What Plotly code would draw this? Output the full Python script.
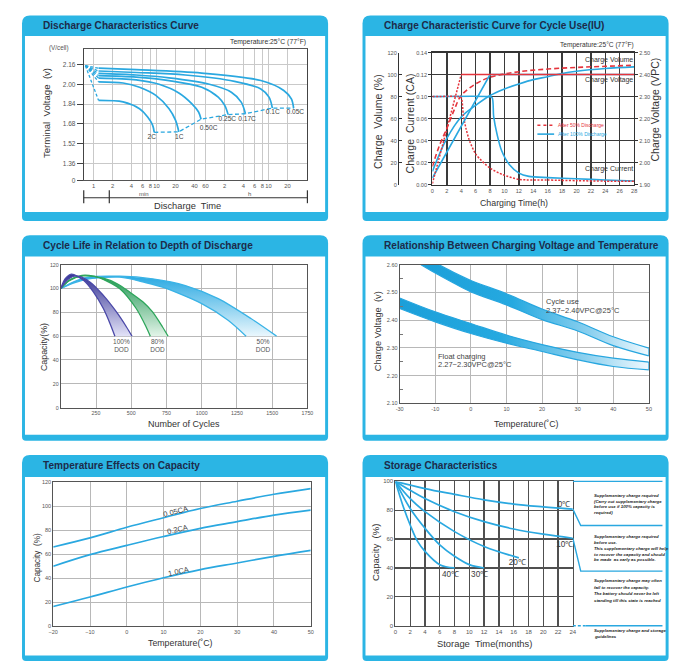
import numpy as np
import plotly.graph_objects as go

W, H = 692, 672
FONT = "Liberation Sans, Arial, Helvetica, sans-serif"
CYAN = "#2bb5e4"
NAVY = "#1d2b4a"
BLUE = "#2aa8e0"
RED = "#e5343c"
TXT = "#333333"
TICK = "#555555"

# ===================== DATA =====================
# Panel 1: discharge curves (time in minutes, volts per cell)
dc_start_time = 0.742
dc_start_volt = 2.15
dc_time_2C = [1.2, 2.94, 5.37, 7.23, 8.66, 9.2]
dc_volt_2C = [1.870, 1.858, 1.802, 1.736, 1.670, 1.612]
dc_time_1C = [1.2, 2.94, 5.37, 9.75, 15.8, 20.0, 22.6]
dc_volt_1C = [2.020, 2.010, 1.976, 1.910, 1.802, 1.710, 1.616]
dc_time_050C = [1.2, 4.75, 11.0, 22.6, 36.5, 46.5, 51.0]
dc_volt_050C = [2.050, 2.036, 2.000, 1.930, 1.842, 1.776, 1.718]
dc_time_025C = [1.2, 4.75, 15.8, 52.3, 95.4, 121, 137]
dc_volt_025C = [2.070, 2.058, 2.030, 1.976, 1.896, 1.830, 1.755]
dc_time_017C = [1.2, 4.75, 15.8, 66.6, 154, 221, 258]
dc_volt_017C = [2.088, 2.075, 2.052, 2.002, 1.936, 1.856, 1.762]
dc_time_01C = [1.2, 4.75, 28.7, 173, 453, 611, 690]
dc_volt_01C = [2.107, 2.095, 2.075, 2.024, 1.962, 1.896, 1.808]
dc_time_005C = [1.2, 4.75, 52.3, 453, 1047, 1383, 1502]
dc_volt_005C = [2.130, 2.118, 2.090, 2.030, 1.950, 1.882, 1.808]
dc_labels = ["2C", "1C", "0.50C", "0.25C", "0.17C", "0.1C", "0.05C"]
dc_label_time = [8.4, 23.0, 67.3, 133, 274, 700, 1596]
dc_label_volt = [1.568, 1.568, 1.648, 1.718, 1.718, 1.771, 1.771]
dc_xtick_vals = [1, 2, 4, 6, 8, 10, 20, 40, 60, 120, 240, 360, 480, 600, 1200]
dc_xtick_text = ["1", "2", "4", "6", "8", "10", "20", "40", "60", "2", "4", "6", "8", "10", "20"]
dc_ytick_vals = [1.224, 1.36, 1.52, 1.68, 1.84, 2.00, 2.16]
dc_ytick_text = ["0", "1.36", "1.52", "1.68", "1.84", "2.00", "2.16"]

# Panel 2: IU charge (hours; volume %, current CA-axis units, voltage VPC)
ch_time_vol100 = [0, 2, 4, 6, 8, 10, 12, 14, 16, 18, 20, 24, 28]
ch_vol100 = [12, 42, 61.5, 72, 81, 87, 91.5, 95.4, 98, 101, 103, 105.5, 107]
ch_time_volt100 = [0, 8, 28]
ch_volt100 = [1.93, 2.40, 2.40]
ch_time_cur100 = [0, 7.8, 8.3, 8.5, 9.0, 9.6, 10.7, 12.0, 13.4, 16, 20, 24, 28]
ch_cur100 = [0.08, 0.08, 0.079, 0.062, 0.045, 0.031, 0.018, 0.0105, 0.0075, 0.0064, 0.0053, 0.0043, 0.0033]
ch_time_vol50 = [0, 1, 2, 3, 4, 6, 8, 12, 16, 20, 24, 28]
ch_vol50 = [16.5, 36, 51, 67.5, 81, 91.5, 97.5, 102.6, 105, 106.5, 107.5, 108.5]
ch_time_volt50 = [0, 4, 28]
ch_volt50 = [1.905, 2.40, 2.40]
ch_time_cur50 = [0, 3.6, 4, 4.3, 4.7, 5.2, 6.1, 8, 9.8, 12, 16, 20, 24, 28]
ch_cur50 = [0.08, 0.08, 0.079, 0.063, 0.05, 0.039, 0.027, 0.015, 0.009, 0.0048, 0.0042, 0.0036, 0.0032, 0.003]
ch_cur_tickvals = [0, 0.02, 0.04, 0.06, 0.08, 0.10, 0.12]
ch_cur_ticktext = ["0.00", "0.02", "0.04", "0.06", "0.10", "0.12", "0.14"]

# Panel 3: cycle life (cycles, capacity %)
cl100_a_cyc = [0, 30, 75, 163, 232, 302, 349, 384]
cl100_a_cap = [100, 108, 112, 106.7, 97, 83.2, 70.7, 60]
cl100_b_cyc = [0, 50, 110, 209, 302, 395, 465, 505]
cl100_b_cap = [100, 107.5, 110.5, 105.3, 94.2, 80.3, 67.9, 60]
cl80_a_cyc = [0, 60, 150, 232, 330, 419, 535, 605, 635]
cl80_a_cap = [100, 107, 111, 110.3, 106, 99.8, 83.2, 67.9, 60]
cl80_b_cyc = [0, 60, 160, 302, 400, 489, 580, 651, 721, 761]
cl80_b_cap = [100, 106.5, 110.5, 108.6, 104, 97, 89, 80.3, 67.9, 60]
cl50_a_cyc = [0, 100, 186, 419, 651, 884, 1117, 1349, 1531]
cl50_a_cap = [100, 106, 109.4, 110.3, 108.1, 102.5, 91.5, 74.8, 60]
cl50_b_cyc = [0, 100, 200, 419, 600, 722, 1000, 1187, 1315]
cl50_b_cap = [100, 105, 108, 109.5, 105, 101.1, 87.3, 73.4, 60]
cl_label_text = ["100%<br>DOD", "80%<br>DOD", "50%<br>DOD"]
cl_label_cyc = [430, 686, 1435]
cl_label_cap = [51.5, 51.5, 51.5]

# Panel 4: charging voltage vs temperature (deg C, V)
cyc_top_t = [-9, -5, 0, 10, 20, 30, 40, 50]
cyc_top_v = [2.600, 2.573, 2.543, 2.495, 2.440, 2.394, 2.340, 2.299]
cyc_bot_t = [-14, -10, -5, 0, 10, 20, 30, 40, 50]
cyc_bot_v = [2.600, 2.570, 2.535, 2.502, 2.455, 2.402, 2.361, 2.308, 2.271]
flt_top_t = [-20, -10, 0, 10, 20, 30, 40, 50]
flt_top_v = [2.480, 2.430, 2.388, 2.346, 2.312, 2.284, 2.263, 2.249]
flt_bot_t = [-20, -10, 0, 10, 20, 30, 40, 50]
flt_bot_v = [2.442, 2.394, 2.352, 2.317, 2.287, 2.257, 2.233, 2.221]
cv_xtick_vals = [-20, -10, 0, 10, 20, 30, 40, 50]
cv_xtick_text = ["-30", "-10", "0", "10", "20", "30", "40", "50"]

# Panel 5: temperature effects on capacity
tc_temp = [-20, -10, 0, 10, 20, 30, 40, 50]
tc_005CA = [66, 73.5, 82.4, 90.3, 98, 104, 109.8, 114.5]
tc_02CA = [50, 59.6, 67.3, 74.7, 81.5, 87, 92.5, 96.6]
tc_10CA = [16.5, 24.4, 32.7, 40.4, 47.2, 52.7, 58.2, 63.1]

# Panel 6: storage characteristics (months, capacity %)
st_m_0C = [0, 4, 8, 12, 16, 20, 24]
st_c_0C = [100, 95, 91, 87.2, 84.3, 82.4, 80.8]
st_m_10C = [0, 2, 4, 8, 12, 16, 20, 24]
st_c_10C = [100, 93.8, 88.1, 79, 72.1, 67, 63.4, 60.6]
st_m_20C = [0, 2, 4, 8, 12, 16.7]
st_c_20C = [100, 88, 79, 65.2, 54.9, 47]
st_m_30C = [0, 2, 4, 6, 8, 10, 12]
st_c_30C = [100, 81.2, 67.5, 56, 48.1, 42.3, 40]
st_m_40C = [0, 1, 2, 3, 4, 6, 8]
st_c_40C = [100, 83.5, 69.8, 58.4, 51.5, 42.3, 40]
st_labels = ["0℃", "10℃", "20℃", "30℃", "40℃"]
st_label_m = [22.8, 22.9, 16.5, 11.4, 7.45]
st_label_c = [84, 56, 43.5, 35.4, 35.4]
st_zone_levels = [100, 69.4, 37.8, 0]
st_zone_link_x = [0, 0.088, 1]

# ===================== HELPERS =====================
def X(px):
    return px / W


def Y(py):
    return 1 - py / H


def dx(a, b):
    return [a / W, b / W]


def dy(top, bot):
    return [1 - bot / H, 1 - top / H]


def rrect(x0, y0, x1, y1, rt, rb):
    return (f"M {X(x0+rt)},{Y(y0)} L {X(x1-rt)},{Y(y0)} Q {X(x1)},{Y(y0)} {X(x1)},{Y(y0+rt)} "
            f"L {X(x1)},{Y(y1-rb)} Q {X(x1)},{Y(y1)} {X(x1-rb)},{Y(y1)} "
            f"L {X(x0+rb)},{Y(y1)} Q {X(x0)},{Y(y1)} {X(x0)},{Y(y1-rb)} "
            f"L {X(x0)},{Y(y0+rt)} Q {X(x0)},{Y(y0)} {X(x0+rt)},{Y(y0)} Z")


annotations = []
shapes = []


def ann(text, px, py, size, color=TXT, xa="center", ya="middle", angle=0):
    annotations.append(dict(text=text, x=px / W, y=1 - py / H, xref="paper", yref="paper",
                            xanchor=xa, yanchor=ya, showarrow=False, textangle=angle,
                            font=dict(family=FONT, size=size, color=color)))


fig = go.Figure()

# ===================== PANEL FRAMES =====================
panels = [
    (17.3, 12.7, 328.3, 220, 33.3, 211, "Discharge Characteristics Curve"),
    (363.3, 12.7, 674.3, 220, 33.3, 211, "Charge Characteristic Curve for Cycle Use(IU)"),
    (17.3, 234.3, 328.3, 441.7, 255.7, 435.7, "Cycle Life in Relation to Depth of Discharge"),
    (363.3, 234.3, 674.3, 441.7, 255.7, 435.7, "Relationship Between Charging Voltage and Temperature"),
    (17.3, 456, 328.3, 664, 478.3, 658.3, "Temperature Effects on Capacity"),
    (363.3, 456, 674.3, 664, 478.3, 658.3, "Storage Characteristics"),
]
for (x0, y0, x1, y1, hb, ib, title) in panels:
    shapes.append(dict(type="path", path=rrect(x0, y0, x1, y1, 8, 4), xref="paper", yref="paper",
                       fillcolor=CYAN, line=dict(width=0), layer="below"))
    shapes.append(dict(type="rect", x0=X(x0 + 3), x1=X(x1 - 3), y0=Y(ib), y1=Y(hb), xref="paper",
                       yref="paper", fillcolor="white", line=dict(width=0), layer="below"))
    ann(f"<b>{title}</b>", x0 + 19.5, (y0 + hb) / 2 - 0.3, 10.1, NAVY, xa="left")

# ===================== PANEL 1 =====================
dc_series = [(dc_time_2C, dc_volt_2C), (dc_time_1C, dc_volt_1C), (dc_time_050C, dc_volt_050C),
             (dc_time_025C, dc_volt_025C), (dc_time_017C, dc_volt_017C), (dc_time_01C, dc_volt_01C),
             (dc_time_005C, dc_volt_005C)]
fx, fy = [], []
for t, v in dc_series:
    fx += [dc_start_time, t[0], None]
    fy += [dc_start_volt, v[0], None]
fig.add_trace(go.Scatter(x=fx, y=fy, mode="lines", xaxis="x", yaxis="y",
                         line=dict(color=BLUE, width=1.3, dash="3px,2px")))
for t, v in dc_series:
    fig.add_trace(go.Scatter(x=t, y=v, mode="lines", xaxis="x", yaxis="y",
                             line=dict(color=BLUE, width=1.7, shape="spline", smoothing=0.9)))
fig.add_trace(go.Scatter(x=[s[0][-1] for s in dc_series], y=[s[1][-1] for s in dc_series],
                         mode="lines", xaxis="x", yaxis="y",
                         line=dict(color=BLUE, width=1.3, dash="4px,2.5px")))
fig.add_trace(go.Scatter(x=dc_label_time, y=dc_label_volt, text=dc_labels, mode="text",
                         xaxis="x", yaxis="y", cliponaxis=False,
                         textfont=dict(family=FONT, size=6.6, color="#444")))
ann("(V/cell)", 66.7, 45, 6.3, TICK, xa="right")
ann("Temperature:25°C (77°F)", 308.3, 39.3, 6.8, TXT, xa="right")
ann("Terminal  Voltage  (v)", 41.7, 111, 9.6, TXT, angle=-90)
ann("Discharge  Time", 185, 205, 9.3, TXT)
ann("min", 141.7, 192.3, 6, TICK)
ann("h", 248.3, 192.3, 6, TICK)
# bracket under the time axis
shapes.append(dict(type="line", xref="paper", yref="paper", x0=X(80), x1=X(307.3), y0=Y(196.5), y1=Y(196.5),
                   line=dict(color="#333", width=1.2)))
for px in (80, 307.3):
    shapes.append(dict(type="line", xref="paper", yref="paper", x0=X(px), x1=X(px), y0=Y(189), y1=Y(202),
                       line=dict(color="#333", width=1.2)))
shapes.append(dict(type="line", xref="x", yref="paper", x0=np.log10(60), x1=np.log10(60), y0=Y(189), y1=Y(202),
                   line=dict(color="#333", width=1.2)))

# ===================== PANEL 2 =====================
fig.add_trace(go.Scatter(x=ch_time_vol100, y=ch_vol100, mode="lines", xaxis="x2", yaxis="y2",
                         line=dict(color=BLUE, width=1.6, shape="spline")))
fig.add_trace(go.Scatter(x=ch_time_vol50, y=ch_vol50, mode="lines", xaxis="x2", yaxis="y2",
                         line=dict(color=RED, width=1.6, shape="spline", dash="5px,3px")))
fig.add_trace(go.Scatter(x=ch_time_volt100, y=ch_volt100, mode="lines", xaxis="x2", yaxis="y4",
                         line=dict(color=BLUE, width=1.6)))
fig.add_trace(go.Scatter(x=ch_time_volt50[:2], y=ch_volt50[:2], mode="lines", xaxis="x2", yaxis="y4",
                         line=dict(color=RED, width=1.5, dash="2px,1.5px")))
fig.add_trace(go.Scatter(x=ch_time_volt50[1:], y=ch_volt50[1:], mode="lines", xaxis="x2", yaxis="y4",
                         line=dict(color=RED, width=1.5)))
fig.add_trace(go.Scatter(x=ch_time_cur100, y=ch_cur100, mode="lines", xaxis="x2", yaxis="y3",
                         line=dict(color=BLUE, width=1.6, shape="spline", smoothing=0.7)))
fig.add_trace(go.Scatter(x=ch_time_cur50, y=ch_cur50, mode="lines", xaxis="x2", yaxis="y3",
                         line=dict(color=RED, width=1.5, shape="spline", smoothing=0.7, dash="2px,1.5px")))
ann("Temperature:25°C (77°F)", 641, 42, 6.6, TXT, xa="right")
ann("Charge Volume", 640, 57.3, 7, TXT, xa="right")
ann("Charge Voltage", 640, 77.3, 7, TXT, xa="right")
ann("Charge Current", 640, 167.7, 7, TXT, xa="right")
ann("Charge  Volume (%)", 379, 119, 10.5, TXT, angle=-90)
ann("Charge  Current (CA)", 411, 121, 10.5, TXT, angle=-90)
ann("Charge Voltage (VPC)", 661, 107, 10.5, TXT, angle=-90)
ann("Charging Time(h)", 517.7, 202.3, 8.8, TXT)
shapes.append(dict(type="line", xref="paper", yref="paper", x0=X(541), x1=X(558), y0=Y(123.3), y1=Y(123.3),
                   line=dict(color=RED, width=1.5, dash="dot")))
shapes.append(dict(type="line", xref="paper", yref="paper", x0=X(541), x1=X(558), y0=Y(132.3), y1=Y(132.3),
                   line=dict(color=BLUE, width=1.6)))
ann("After 50% Discharge", 560, 123.3, 5, RED, xa="left")
ann("After 100% Discharge", 560, 132.3, 5, BLUE, xa="left")

# ===================== PANEL 3 =====================
lens = [
    (cl50_a_cyc, cl50_a_cap, cl50_b_cyc, cl50_b_cap, "#3ab3e6", "#eaf7fd", "#2aa9e2"),
    (cl80_a_cyc, cl80_a_cap, cl80_b_cyc, cl80_b_cap, "#2ea65b", "#e2f4e8", "#1f9552"),
    (cl100_a_cyc, cl100_a_cap, cl100_b_cyc, cl100_b_cap, "#4a48a8", "#e2e2f7", "#363494"),
]
for ac, ap, bc, bp, lc, light, dark in lens:
    fig.add_trace(go.Scatter(x=ac, y=ap, mode="lines", xaxis="x3", yaxis="y5",
                             line=dict(color=lc, width=1.3, shape="spline", smoothing=0.8)))
    fig.add_trace(go.Scatter(x=bc, y=bp, mode="lines", xaxis="x3", yaxis="y5", fill="tonexty",
                             fillgradient=dict(type="vertical", colorscale=[[0, light], [1, dark]]),
                             line=dict(color=lc, width=1.3, shape="spline", smoothing=0.8)))
fig.add_trace(go.Scatter(x=cl_label_cyc, y=cl_label_cap, text=cl_label_text, mode="text",
                         xaxis="x3", yaxis="y5", cliponaxis=False,
                         textfont=dict(family=FONT, size=6.5, color="#555")))
ann("Capacity(%)", 39, 346.7, 8.8, TXT, angle=-90)
ann("Number of Cycles", 181.7, 425, 9, TXT)

# ===================== PANEL 4 =====================
band_scale = [[0, "#1b9fd9"], [0.4, "#25a9e0"], [0.75, "#8ed1ef"], [1, "#f0f9fe"]]
for tt, tv, bt, bv in [(cyc_top_t, cyc_top_v, cyc_bot_t, cyc_bot_v),
                       (flt_top_t, flt_top_v, flt_bot_t, flt_bot_v)]:
    fig.add_trace(go.Scatter(x=tt, y=tv, mode="lines", xaxis="x4", yaxis="y6",
                             line=dict(color="#27a6df", width=1.2, shape="spline")))
    fig.add_trace(go.Scatter(x=bt, y=bv, mode="lines", xaxis="x4", yaxis="y6", fill="tonexty",
                             fillgradient=dict(type="horizontal", colorscale=band_scale),
                             line=dict(color="#27a6df", width=1.2, shape="spline")))
    fig.add_trace(go.Scatter(x=[tt[-1], bt[-1]], y=[tv[-1], bv[-1]], mode="lines", xaxis="x4", yaxis="y6",
                             line=dict(color="#27a6df", width=1.2)))
ann("Cycle use", 547.7, 301, 7.5, "#444", xa="left")
ann("2.37~2.40VPC@25°C", 547.7, 310, 7.5, "#444", xa="left")
ann("Float charging", 437.7, 356.7, 7.5, "#444", xa="left")
ann("2.27~2.30VPC@25°C", 437.7, 365, 7.5, "#444", xa="left")
ann("Charge Voltage  (v)", 379.3, 331, 9.3, TXT, angle=-90)
ann("Temperature(˚C)", 530, 425, 8.8, TXT)

# ===================== PANEL 5 =====================
for cap in (tc_005CA, tc_02CA, tc_10CA):
    fig.add_trace(go.Scatter(x=tc_temp, y=cap, mode="lines", xaxis="x5", yaxis="y7",
                             line=dict(color=BLUE, width=1.7, shape="spline")))
for txt, tx, cy, ang in [("0.05CA", 13.2, 95.8, -14), ("0.2CA", 13.7, 80.7, -13), ("1.0CA", 14, 45.9, -12.5)]:
    annotations.append(dict(text=txt, x=tx, y=cy, xref="x5", yref="y7", showarrow=False, textangle=ang,
                            font=dict(family=FONT, size=7.5, color="#444")))
ann("Capacity  (%)", 33, 560, 8.2, TXT, angle=-90)
ann("Temperature(˚C)", 178, 646, 8.8, TXT)

# ===================== PANEL 6 =====================
st_series = [(st_m_0C, st_c_0C), (st_m_10C, st_c_10C), (st_m_20C, st_c_20C),
             (st_m_30C, st_c_30C), (st_m_40C, st_c_40C)]
for m, c in st_series:
    fig.add_trace(go.Scatter(x=m, y=c, mode="lines", xaxis="x6", yaxis="y8",
                             line=dict(color=BLUE, width=1.7, shape="spline")))
fig.add_trace(go.Scatter(x=st_label_m, y=st_label_c, text=st_labels, mode="text", xaxis="x6", yaxis="y8",
                         cliponaxis=False, textfont=dict(family=FONT, size=8.2, color="#3a3a3a")))
# zone boundary lines to the right of the plot
fig.add_trace(go.Scatter(x=[0, 1], y=[st_zone_levels[0]] * 2, mode="lines", xaxis="x7", yaxis="y9",
                         line=dict(color=BLUE, width=1.4)))
fig.add_trace(go.Scatter(x=st_zone_link_x, y=[st_c_0C[-1], st_zone_levels[1], st_zone_levels[1]],
                         mode="lines", xaxis="x7", yaxis="y9", line=dict(color=BLUE, width=1.4)))
fig.add_trace(go.Scatter(x=st_zone_link_x, y=[st_c_10C[-1], st_zone_levels[2], st_zone_levels[2]],
                         mode="lines", xaxis="x7", yaxis="y9", line=dict(color=BLUE, width=1.4)))
fig.add_trace(go.Scatter(x=[0, 0.14], y=[st_zone_levels[3]] * 2, mode="lines", xaxis="x7", yaxis="y9",
                         line=dict(color=BLUE, width=1.4, dash="3px,2px")))
fig.add_trace(go.Scatter(x=[0.14, 1], y=[st_zone_levels[3]] * 2, mode="lines", xaxis="x7", yaxis="y9",
                         line=dict(color=BLUE, width=1.4)))
notes = [
    (496.5, "Supplementary charge required"),
    (502.5, "(Carry out supplementary charge"),
    (508.5, "before use if 100% capacity is"),
    (514.5, "required)"),
    (538, "Supplementary charge required"),
    (544, "before use."),
    (550, "This supplementary charge will help"),
    (556, "to recover the capacity and should"),
    (562, "be made  as early as possible."),
    (583, "Supplementary charge may often"),
    (589.7, "fail to recover the capacity."),
    (596.3, "The battery should never be left"),
    (603, "standing till this state is reached"),
    (633, "Supplementary charge and storage"),
    (639, "guidelines"),
]
for py, line in notes:
    ann(f"<b><i>{line}</i></b>", 596, py, 4.3, "#222", xa="left")
ann("Capacity  (%)", 376, 554, 9.6, TXT, angle=-90)
ann("Storage  Time(months)", 487.7, 646, 9.4, TXT)

# ===================== LAYOUT =====================
tf = lambda s, c=TICK: dict(family=FONT, size=s, color=c)

layout = dict(
    width=W, height=H, margin=dict(l=0, r=0, t=0, b=0),
    paper_bgcolor="white", plot_bgcolor="rgba(0,0,0,0)", showlegend=False,
    font=dict(family=FONT),
    # panel 1
    xaxis=dict(domain=dx(80, 307), anchor="y", type="log", range=[-0.156, 3.391],
               tickvals=dc_xtick_vals, ticktext=dc_xtick_text, tickangle=0, showgrid=True,
               gridcolor="#c9c9c9", gridwidth=1, showline=True, mirror=True, linecolor="#555",
               ticks="", zeroline=False, tickfont=tf(5.8)),
    yaxis=dict(domain=dy(46, 179), anchor="x", range=[1.224, 2.288], tickvals=dc_ytick_vals,
               ticktext=dc_ytick_text, showgrid=True, gridcolor="#c9c9c9", gridwidth=1, showline=True,
               mirror=True, linecolor="#444", ticks="outside", ticklen=6, tickcolor="#444",
               zeroline=False, tickfont=tf(6.5)),
    # panel 2
    xaxis2=dict(domain=dx(434.3, 639.3), anchor="y3", range=[0, 28], tickvals=list(range(0, 29, 2)),
                tickangle=0, showgrid=True, gridcolor="#3a3a3a", gridwidth=1.4, showline=True,
                mirror=True, linecolor="#333", linewidth=1.2, ticks="", zeroline=False, tickfont=tf(5.6)),
    yaxis2=dict(domain=dy(50, 183.3), anchor="free", position=399.3 / W, range=[0, 120], dtick=20,
                showgrid=True, gridcolor="#3a3a3a", gridwidth=1.4, showline=True, linecolor="#333",
                linewidth=1.2, ticks="inside", ticklen=3, tickcolor="#333", zeroline=False,
                tickfont=tf(5.6)),
    yaxis3=dict(overlaying="y2", anchor="x2", side="left", range=[0, 0.12], tickvals=ch_cur_tickvals,
                ticktext=ch_cur_ticktext, showgrid=False, showline=True, mirror=True, linecolor="#333",
                linewidth=1.2, ticks="outside", ticklen=3, tickcolor="#333", zeroline=False,
                tickfont=tf(5.6)),
    yaxis4=dict(overlaying="y2", anchor="x2", side="right", range=[1.9, 2.5],
                tickvals=[1.9, 2.0, 2.1, 2.2, 2.3, 2.4, 2.5], tickformat=".2f", showgrid=False,
                showline=False, ticks="outside", ticklen=3, tickcolor="#333", zeroline=False,
                tickfont=tf(5.6)),
    # panel 3
    xaxis3=dict(domain=dx(56.7, 307.3), anchor="y5", range=[0, 1750], tickangle=0,
                tickvals=[250, 500, 750, 1000, 1250, 1500, 1750], showgrid=True, gridcolor="#b8b8b8",
                gridwidth=1, showline=True, mirror=True, linecolor="#555", ticks="", zeroline=False,
                tickfont=tf(5.3)),
    yaxis5=dict(domain=dy(264, 408.3), anchor="x3", range=[0, 120], dtick=20, showgrid=True,
                gridcolor="#b8b8b8", gridwidth=1, showline=True, mirror=True, linecolor="#555",
                ticks="", zeroline=False, tickfont=tf(5.3)),
    # panel 4
    xaxis4=dict(domain=dx(401, 654.3), anchor="y6", range=[-20, 50], tickvals=cv_xtick_vals,
                ticktext=cv_xtick_text, tickangle=0, showgrid=True, gridcolor="#b8b8b8", gridwidth=1,
                showline=True, mirror=True, linecolor="#555", ticks="", zeroline=False, tickfont=tf(5.5)),
    yaxis6=dict(domain=dy(264, 404), anchor="x4", range=[2.10, 2.60], dtick=0.1, tickformat=".2f",
                showgrid=True, gridcolor="#b8b8b8", gridwidth=1, showline=True, mirror=True,
                linecolor="#555", ticks="", zeroline=False, tickfont=tf(5.5),
                minor=dict(dtick=0.05, ticks="inside", ticklen=3, tickcolor="#777", showgrid=False)),
    # panel 5
    xaxis5=dict(domain=dx(49, 310.7), anchor="y7", range=[-20, 50], dtick=10, tickangle=0, showgrid=True,
                gridcolor="#b8b8b8", gridwidth=1, showline=True, mirror=True, linecolor="#555",
                ticks="", zeroline=False, tickfont=tf(5.5)),
    yaxis7=dict(domain=dy(483.3, 629), anchor="x5", range=[0, 120], dtick=20, showgrid=True,
                gridcolor="#b8b8b8", gridwidth=1, showline=True, mirror=True, linecolor="#555",
                ticks="", zeroline=False, tickfont=tf(5.5)),
    # panel 6
    xaxis6=dict(domain=dx(396.7, 577), anchor="y8", range=[0, 24], dtick=2, tickangle=0, showgrid=True,
                gridcolor="#505050", gridwidth=1.3, showline=True, mirror=True, linecolor="#505050",
                ticks="", zeroline=False, tickfont=tf(6)),
    yaxis8=dict(domain=dy(482.7, 628.3), anchor="x6", range=[0, 100], dtick=20, showgrid=True,
                gridcolor="#505050", gridwidth=1.3, showline=True, mirror=True, linecolor="#505050",
                ticks="", zeroline=False, tickfont=tf(6)),
    xaxis7=dict(domain=dx(577, 668.3), anchor="y9", range=[0, 1], visible=False),
    yaxis9=dict(domain=dy(481.2, 629.8), anchor="x7", range=[-1.03, 101.03], visible=False),
    annotations=annotations,
    shapes=shapes,
)
fig.update_layout(**layout)
fig.write_html("out.html", config={"displayModeBar": False, "staticPlot": True},
               post_script="document.body.style.margin='0px';")
